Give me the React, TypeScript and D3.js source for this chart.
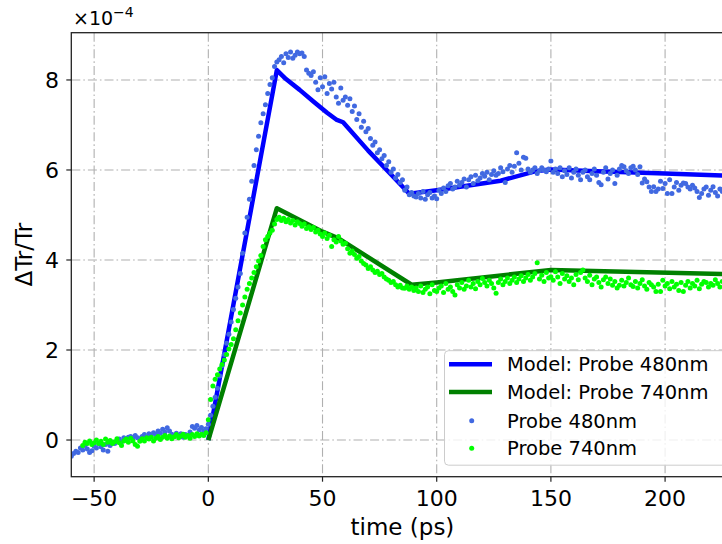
import React from "react";
import * as d3 from "d3";

// ---- data (values in units of 1e-4) ----
const probe480Start = -60;
const probe480Values = [
  -0.36,-0.30,-0.25,-0.28,-0.18,-0.22,-0.12,-0.20,-0.28,-0.24,
  -0.14,-0.18,-0.08,-0.15,-0.22,-0.10,-0.25,-0.12,-0.05,-0.08,
  -0.02,0.02,-0.04,0.05,0.00,0.06,0.08,0.03,0.10,0.05,
  0.02,0.08,0.12,0.06,0.14,0.10,0.16,0.12,0.20,0.15,
  0.24,0.18,0.27,0.20,0.13,0.08,0.15,0.10,0.14,0.06,
  0.12,0.10,0.18,0.30,0.26,0.32,0.22,0.28,0.20,0.25,
  0.35,0.55,0.75,0.95,1.15,1.42,1.65,1.90,2.15,2.35,
  2.62,2.90,3.15,3.40,3.70,4.15,4.60,4.95,5.35,5.75,
  6.10,6.45,6.75,7.05,7.25,7.45,7.70,7.90,8.05,8.30,
  8.40,
  8.45,8.52,8.38,8.58,8.50,8.62,8.48,8.55,8.62,8.58,8.60,8.52,8.22,8.15,8.10,
  8.18,7.95,7.78,8.05,7.85,8.07,7.70,7.92,7.80,7.95,7.62,7.48,7.82,7.55,7.62,
  7.44,7.58,7.30,7.42,7.12,7.25,6.95,7.08,6.85,6.92,6.70,6.55,6.62,6.38,6.45,
  6.25,6.32,6.10,6.18,5.95,6.02,5.82,5.90,5.72,5.78,5.55,5.62,5.45,5.50,5.42,
  5.40,5.48,5.38,5.52,5.35,5.45,5.50,5.38,5.42,5.36,5.55,5.48,5.60,5.52,5.65,
  5.70,5.58,5.62,5.75,5.66,5.72,5.80,5.62,5.78,5.85,5.70,5.88,5.76,5.82,5.92,
  5.86,5.95,5.78,5.90,5.98,5.88,5.92,6.05,5.96,5.72,6.02,6.10,5.95,6.08,6.38,
  6.15,6.00,6.28,6.26,6.02,5.95,6.00,6.05,5.92,5.98,6.05,6.00,5.96,6.02,6.20,
  5.95,6.02,5.92,6.05,5.85,5.98,5.90,6.05,5.82,5.95,6.02,5.88,5.78,5.95,6.00,
  5.85,5.78,5.92,6.02,5.88,5.72,5.67,5.95,6.05,5.80,5.92,6.00,5.70,5.88,6.02,
  6.10,6.07,5.98,5.92,6.05,6.08,6.00,5.90,6.07,5.71,5.80,5.74,5.62,5.52,5.63,
  5.52,5.58,5.75,5.59,5.70,5.48,5.78,5.48,5.62,5.72,5.55,5.66,5.71,5.70,5.62,
  5.58,5.66,5.60,5.52,5.39,5.48,5.58,5.62,5.44,5.55,5.63,5.50,5.42,5.58,5.52,
];

const probe740Start = -55;
const probe740Values = [
  -0.12,-0.05,-0.08,-0.02,-0.10,-0.06,0.00,-0.08,-0.03,-0.10,
  0.02,-0.05,-0.01,-0.08,-0.04,0.03,-0.06,-0.12,-0.02,0.02,
  -0.05,0.04,-0.02,-0.10,-0.14,-0.03,0.03,-0.02,0.05,0.02,
  0.06,-0.02,0.04,0.08,0.01,0.06,0.10,0.04,0.09,0.03,
  0.07,0.12,0.05,0.09,0.13,0.06,0.10,0.04,0.12,0.08,
  0.14,0.09,0.13,0.10,0.16,
  0.45,0.90,1.20,1.35,1.45,1.58,1.68,1.78,1.90,2.02,
  2.12,2.25,2.45,2.65,2.82,3.00,3.18,3.35,3.48,3.60,
  3.72,3.85,3.98,4.10,4.30,4.45,4.52,4.60,4.66,4.80,
  4.90,
  4.95,4.88,4.93,4.85,4.90,4.82,4.88,4.78,4.85,4.81,4.75,4.80,4.70,4.74,4.68,
  4.72,4.62,4.66,4.58,4.52,4.60,4.48,4.55,4.30,4.45,4.40,4.52,4.42,4.35,4.37,
  4.25,4.15,4.20,4.12,4.04,4.08,3.98,3.92,3.89,3.81,3.85,3.78,3.72,3.75,3.68,
  3.70,3.62,3.58,3.55,3.50,3.52,3.45,3.40,3.44,3.38,3.37,3.42,3.35,3.40,3.32,
  3.38,3.30,3.42,3.28,3.35,3.40,3.25,3.45,3.32,3.30,3.38,3.42,3.28,3.48,3.35,
  3.40,3.30,3.22,3.45,3.38,3.50,3.35,3.42,3.55,3.40,3.48,3.36,3.52,3.45,3.59,
  3.50,3.42,3.55,3.48,3.38,3.26,3.50,3.58,3.45,3.52,3.60,3.48,3.55,3.62,3.50,
  3.58,3.65,3.52,3.60,3.68,3.55,3.62,3.70,3.94,3.58,3.66,3.52,3.72,3.60,3.63,
  3.55,3.74,3.62,3.48,3.70,3.58,3.65,3.52,3.60,3.45,3.68,3.56,3.72,3.78,3.60,
  3.52,3.66,3.45,3.58,3.62,3.50,3.40,3.56,3.62,3.48,3.58,3.44,3.52,3.38,3.44,
  3.55,3.42,3.50,3.60,3.45,3.41,3.52,3.38,3.48,3.56,3.42,3.35,3.50,3.45,3.40,
  3.30,3.46,3.30,3.55,3.42,3.48,3.36,3.52,3.40,3.46,3.32,3.50,3.30,3.44,3.52,
  3.38,3.48,3.42,3.55,3.36,3.46,3.52,3.50,3.40,3.48,3.44,3.56,3.48,3.40,3.52,
];

const model480Times = [0, 30, 34, 40, 46, 52, 56, 59, 70, 80, 88, 100, 128, 143, 150, 170, 200, 230];
const model480Values = [0, 8.22, 8.02, 7.78, 7.52, 7.27, 7.12, 7.06, 6.43, 5.90, 5.47, 5.55, 5.76, 5.97, 6.01, 5.97, 5.92, 5.87];

const model740Times = [0, 30, 50, 57, 89, 100, 150, 230];
const model740Values = [0, 5.15, 4.63, 4.48, 3.45, 3.50, 3.78, 3.68];

const xTicks = [-50, 0, 50, 100, 150, 200];
const yTicks = [0, 2, 4, 6, 8];

const legendLabels = ["Model: Probe 480nm", "Model: Probe 740nm", "Probe 480nm", "Probe 740nm"];

// ---- layout ----
const W = 722, H = 544;
const L = 71.3, R = 733.6, T = 32.7, B = 476.7;
const FONT = "DejaVu Sans, sans-serif";

export default function App() {
  const x = d3.scaleLinear().domain([-60, 230]).range([L, R]);
  const y = d3.scaleLinear().domain([-0.815, 9.05]).range([B, T]);

  const line = d3
    .line<[number, number]>()
    .x((d) => x(d[0]))
    .y((d) => y(d[1]));

  const m480 = model480Times.map((t, i) => [t, model480Values[i]] as [number, number]);
  const m740 = model740Times.map((t, i) => [t, model740Values[i]] as [number, number]);
  const p480 = probe480Values.map((v, i) => [probe480Start + i, v] as [number, number]);
  const p740 = probe740Values.map((v, i) => [probe740Start + i, v] as [number, number]);

  const gridStyle = { stroke: "#b0b0b0", strokeWidth: 1.1, strokeDasharray: "9,3,1.6,3" };
  const fmt = (v: number) => (v < 0 ? "\u2212" + Math.abs(v) : String(v));

  const legX = 444.5, legY = 350.7;
  const rowY = [364.3, 392, 420.7, 448.3];

  return (
    <svg width={W} height={H} style={{ position: "absolute", left: 0, top: 0, background: "#fff" }} fontFamily={FONT}>
      <defs>
        <clipPath id="plot">
          <rect x={L} y={T} width={R - L} height={B - T} />
        </clipPath>
      </defs>
      <rect x={0} y={0} width={W} height={H} fill="#fff" />
      {/* grid */}
      {xTicks.map((t) => (
        <line key={"gx" + t} x1={x(t)} x2={x(t)} y1={T} y2={B} {...gridStyle} />
      ))}
      {yTicks.map((t) => (
        <line key={"gy" + t} x1={L} x2={R} y1={y(t)} y2={y(t)} {...gridStyle} />
      ))}
      <g clipPath="url(#plot)">
        <path d={line(m480) || ""} fill="none" stroke="#0000ff" strokeWidth={4.5} strokeLinejoin="round" />
        <path d={line(m740) || ""} fill="none" stroke="#008000" strokeWidth={4.5} strokeLinejoin="round" />
        {p480.map((d, i) => (
          <circle key={"b" + i} cx={x(d[0])} cy={y(d[1])} r={2.5} fill="#4169e1" />
        ))}
        {p740.map((d, i) => (
          <circle key={"g" + i} cx={x(d[0])} cy={y(d[1])} r={2.5} fill="#00ff00" />
        ))}
      </g>
      {/* spines */}
      <rect x={L} y={T} width={R - L} height={B - T} fill="none" stroke="#222" strokeWidth={1.3} />
      {/* x ticks */}
      {xTicks.map((t) => (
        <g key={"xt" + t}>
          <line x1={x(t)} x2={x(t)} y1={B} y2={B + 5} stroke="#222" strokeWidth={1.2} />
          <text x={x(t)} y={506} textAnchor="middle" fontSize={22} fill="#000">
            {fmt(t)}
          </text>
        </g>
      ))}
      {/* y ticks */}
      {yTicks.map((t) => (
        <g key={"yt" + t}>
          <line x1={L - 5} x2={L} y1={y(t)} y2={y(t)} stroke="#222" strokeWidth={1.2} />
          <text x={59} y={y(t) + 8} textAnchor="end" fontSize={22} fill="#000">
            {fmt(t)}
          </text>
        </g>
      ))}
      {/* offset text */}
      <text x={73} y={25} fontSize={19} fill="#000">
        ×10<tspan dy={-8} fontSize={14}>−4</tspan>
      </text>
      {/* axis labels */}
      <text x={(L + R) / 2} y={535} textAnchor="middle" fontSize={23} fill="#000">
        time (ps)
      </text>
      <text transform={`translate(32,${(T + B) / 2}) rotate(-90)`} textAnchor="middle" fontSize={23} fill="#000">
        ΔTr/Tr
      </text>
      {/* legend */}
      <rect x={legX} y={legY} width={290} height={114.5} rx={4} fill="#fff" fillOpacity={0.8} stroke="#cccccc" strokeWidth={1} />
      <line x1={449} x2={492} y1={rowY[0]} y2={rowY[0]} stroke="#0000ff" strokeWidth={4.5} />
      <line x1={449} x2={492} y1={rowY[1]} y2={rowY[1]} stroke="#008000" strokeWidth={4.5} />
      <circle cx={471.7} cy={rowY[2]} r={2.5} fill="#4169e1" />
      <circle cx={471.7} cy={rowY[3]} r={2.5} fill="#00ff00" />
      {legendLabels.map((lab, i) => (
        <text key={lab} x={507} y={rowY[i] + 7} fontSize={19.5} fill="#000">
          {lab}
        </text>
      ))}
    </svg>
  );
}
